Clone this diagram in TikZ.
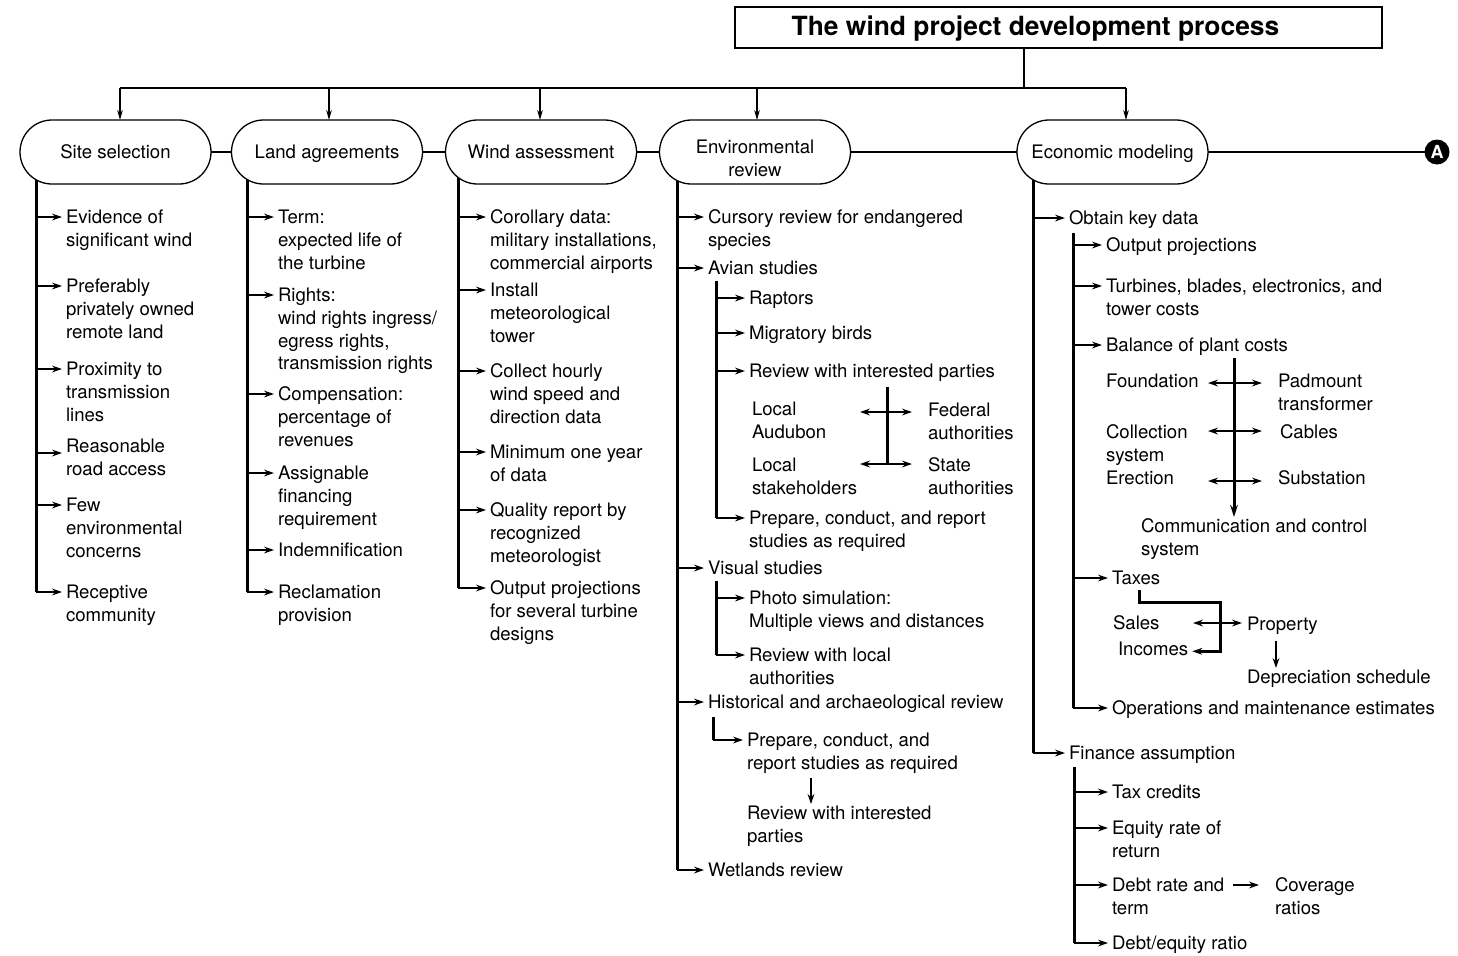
\documentclass[tikz,border=0pt]{standalone}
\usepackage{fontspec}
\setmainfont{TeX Gyre Heros}
\usetikzlibrary{shapes.misc,arrows.meta,calc}

% leaf item with an arrow from a trunk: [arrow y offset]{name}{trunk coord}{x}{y of first line}{text}
\newcommand\itemleaf[6][0]{%
  \node[lftxt] (#2) at (#4,{#5-9}) {\strut #6};
  \coordinate (#2-in) at ($(#2.north west)+(-4,{9+#1})$);
  \draw[br] (#3 |- #2-in) -- (#2-in);}
% plain text node: {name}{x}{y of first line}{text}
\newcommand\txtnode[4]{%
  \node[lftxt] (#1) at (#2,{#3-9}) {\strut #4};
  \coordinate (#1-in) at ($(#1.north west)+(-4,9)$);}
% header text with fixed height and depth
\newcommand\hdtxt[1]{\raisebox{0pt}[8pt][1.4pt]{#1}}

\begin{document}
\begin{tikzpicture}[x=0.5pt,y=-0.5pt,
  every node/.style={font=\fontsize{9.3}{11.3}\selectfont, inner sep=0pt, outer sep=0pt},
  hdr/.style={draw, line width=0.65pt, rounded rectangle, minimum width=95.5pt, minimum height=32pt, fill=white, align=center},
  lftxt/.style={anchor=north west, align=left},
  trunk/.style={line width=1.5pt},
  tip/.style={-{Stealth[length=5pt,width=3.4pt]}},
  br/.style={line width=1.1pt, tip},
  dnarr/.style={line width=1.5pt, -{Stealth[length=6pt,width=3.8pt]}},
  dbl/.style={line width=1.2pt, {Stealth[length=5pt,width=3.4pt]}-{Stealth[length=5pt,width=3.4pt]}},
  thinl/.style={line width=0.6pt},
  busarr/.style={line width=0.6pt, -{Stealth[length=5pt,width=2.8pt]}},
  hline/.style={line width=1.3pt}]
\useasboundingbox (0,0) rectangle (1458,955);

% trunk tops
\coordinate (t1) at (36,152);
\coordinate (t2) at (247,152);
\coordinate (t3) at (458,152);
\coordinate (t4) at (677,152);
\coordinate (t5) at (1033,152);

% ---------- Column 1: Site selection
\itemleaf{s1}{t1}{66}{217}{Evidence of\\significant wind}
\itemleaf{s2}{t1}{66}{286}{Preferably\\privately owned\\remote land}
\itemleaf{s3}{t1}{66}{369}{Proximity to\\transmission\\lines}
\itemleaf[7]{s4}{t1}{66}{446}{Reasonable\\road access}
\itemleaf{s5}{t1}{66}{505}{Few\\environmental\\concerns}
\itemleaf{s6}{t1}{66}{592}{Receptive\\community}
\draw[trunk] (t1) -- (t1 |- s6-in);

% ---------- Column 2: Land agreements
\itemleaf{l1}{t2}{278}{217}{Term:\\expected life of\\the turbine}
\itemleaf{l2}{t2}{278}{295}{Rights:\\wind rights ingress/\\egress rights,\\transmission rights}
\itemleaf{l3}{t2}{278}{394}{Compensation:\\percentage of\\revenues}
\itemleaf{l4}{t2}{278}{473}{Assignable\\financing\\requirement}
\itemleaf{l5}{t2}{278}{550}{Indemnification}
\itemleaf{l6}{t2}{278}{592}{Reclamation\\provision}
\draw[trunk] (t2) -- (t2 |- l6-in);

% ---------- Column 3: Wind assessment
\itemleaf{w1}{t3}{490}{217}{Corollary data:\\military installations,\\commercial airports}
\itemleaf{w2}{t3}{490}{290}{Install\\meteorological\\tower}
\itemleaf{w3}{t3}{490}{371}{Collect hourly\\wind speed and\\direction data}
\itemleaf{w4}{t3}{490}{452}{Minimum one year\\of data}
\itemleaf{w5}{t3}{490}{510}{Quality report by\\recognized\\meteorologist}
\itemleaf{w6}{t3}{490}{588}{Output projections\\for several turbine\\designs}
\draw[trunk] (t3) -- (t3 |- w6-in);

% ---------- Column 4: Environmental review
\itemleaf{e1}{t4}{708}{217}{Cursory review for endangered\\species}
\itemleaf{e2}{t4}{708}{268}{Avian studies}
\coordinate (av) at (716,281);
\itemleaf{a1}{av}{749}{298}{Raptors}
\itemleaf{a2}{av}{749}{333}{Migratory birds}
\itemleaf{a3}{av}{749}{371}{Review with interested parties}
\itemleaf{a4}{av}{749}{518}{Prepare, conduct, and report\\studies as required}
\draw[trunk] (av) -- (av |- a4-in);
\txtnode{lau}{752}{409}{Local\\Audubon}
\txtnode{fed}{928}{410}{Federal\\authorities}
\txtnode{lst}{752}{465}{Local\\stakeholders}
\txtnode{sta}{928}{465}{State\\authorities}
\coordinate (cv) at (887,387);
\coordinate (c1) at (887,412);
\coordinate (c2) at (887,464);
\draw[trunk] (cv) -- (c2);
\draw[dbl] ([xshift=-13.5pt]c1) -- ([xshift=12.5pt]c1);
\draw[dbl] ([xshift=-13.5pt]c2) -- ([xshift=12.5pt]c2);
\itemleaf{e3}{t4}{708}{568}{Visual studies}
\coordinate (vs) at (716,581);
\itemleaf{v1}{vs}{749}{598}{Photo simulation:\\Multiple views and distances}
\itemleaf{v2}{vs}{749}{655}{Review with local\\authorities}
\draw[trunk] (vs) -- (vs |- v2-in);
\itemleaf{e4}{t4}{708}{702}{Historical and archaeological review}
\coordinate (hs) at (713,717);
\itemleaf{h1}{hs}{747}{740}{Prepare, conduct, and\\report studies as required}
\draw[trunk] (hs) -- (hs |- h1-in);
\txtnode{h2}{747}{813}{Review with interested\\parties}
\coordinate (dx) at (811,0);
\coordinate (d1) at ($(h1.south -| dx)+(0,5)$);
\draw[br] (d1) -- (h2.north -| dx);
\itemleaf{e5}{t4}{708}{870}{Wetlands review}
\draw[trunk] (t4) -- (t4 |- e5-in);

% ---------- Column 5: Economic modeling
\itemleaf{k0}{t5}{1069}{218}{Obtain key data}
\coordinate (kd) at (1073,233);
\itemleaf{k1}{kd}{1106}{245}{Output projections}
\itemleaf{k2}{kd}{1106}{286}{Turbines, blades, electronics, and\\tower costs}
\itemleaf{k3}{kd}{1106}{345}{Balance of plant costs}
\txtnode{fo}{1106}{381}{Foundation}
\txtnode{co}{1106}{432}{Collection\\system}
\txtnode{erc}{1106}{478}{Erection}
\txtnode{pa}{1278}{381}{Padmount\\transformer}
\txtnode{ca}{1280}{432}{Cables}
\txtnode{su}{1278}{478}{Substation}
\txtnode{cm}{1141}{526}{Communication and control\\system}
\coordinate (bv) at (1234,358);
\coordinate (bp1) at (1234,383);
\coordinate (bp2) at (1234,431);
\coordinate (bp3) at (1234,481);
\draw[dnarr] (bv) -- (bv |- cm.north);
\draw[dbl] ([xshift=-13pt]bp1) -- ([xshift=14pt]bp1);
\draw[dbl] ([xshift=-13pt]bp2) -- ([xshift=14pt]bp2);
\draw[dbl] ([xshift=-13pt]bp3) -- ([xshift=14pt]bp3);
\itemleaf{k4}{kd}{1112}{578}{Taxes}
\txtnode{sal}{1113}{623}{Sales}
\txtnode{inc}{1118}{649}{Incomes}
\txtnode{pro}{1247}{624}{Property}
\txtnode{dep}{1247}{677}{Depreciation schedule}
\coordinate (tl) at (1139,590);
\coordinate (tr) at (1220,602);
\coordinate (tc) at (1220,623);
\draw[trunk, tip] (tl) |- (tr) |- ([xshift=2pt]inc.east);
\draw[dbl] ([xshift=-13.5pt]tc) -- ([xshift=11pt]tc);
\coordinate (px) at (1276,0);
\coordinate (p1) at ($(pro.south -| px)+(0,3)$);
\draw[br] (p1) -- (dep.north -| px);
\itemleaf{k5}{kd}{1112}{708}{Operations and maintenance estimates}
\draw[trunk] (kd) -- (kd |- k5-in);
\itemleaf{k6}{t5}{1069}{753}{Finance assumption}
\coordinate (fa) at (1074,767);
\itemleaf{f1}{fa}{1112}{792}{Tax credits}
\itemleaf{f2}{fa}{1112}{828}{Equity rate of\\return}
\itemleaf{f3}{fa}{1112}{885}{Debt rate and\\term}
\itemleaf{f4}{fa}{1112}{943}{Debt/equity ratio}
\draw[trunk] (fa) -- (fa |- f4-in);
\txtnode{cov}{1275}{885}{Coverage\\ratios}
\draw[br] ([xshift=-19pt]cov-in) -- ([xshift=-6pt]cov-in);
\draw[trunk] (t5) -- (t5 |- k6-in);

% ---------- Header row
\node[hdr] (ss) at (115.5,152) {\hdtxt{Site selection}};
\node[hdr] (la) at (327,152) {\hdtxt{Land agreements}};
\node[hdr] (wa) at (541,152) {\hdtxt{Wind assessment}};
\node[hdr] (er) at (755,152) {\raisebox{0pt}[13pt][0pt]{Environmental}\\\raisebox{0pt}[7pt][0pt]{review}};
\node[hdr] (ec) at (1112.5,152) {\hdtxt{Economic modeling}};
\node[circle, fill=black, minimum size=12.5pt, text=white,
      font=\bfseries\fontsize{9}{10}\selectfont] (A) at (1437,152) {A};
\draw[hline] (ss.east) -- (la.west);
\draw[hline] (la.east) -- (wa.west);
\draw[hline] (wa.east) -- (er.west);
\draw[hline] (er.east) -- (ec.west);
\draw[hline] (ec.east) -- (A.west);

% ---------- Title and bus
\node[draw, line width=0.65pt, minimum width=323.5pt, minimum height=20.5pt,
      font=\bfseries\fontsize{13.2}{15}\selectfont] (T) at (1058.5,27.5)
      {\raisebox{0pt}[9.5pt][1.5pt]{The wind project development process}\hspace*{23pt}};
\coordinate (bus) at (1024,88);
\coordinate (b1) at (120,88);
\coordinate (b2) at (329,88);
\coordinate (b3) at (540,88);
\coordinate (b4) at (757,88);
\coordinate (b5) at (1126,88);
\draw[thinl] (T.south -| bus) -- (bus);
\draw[thinl] (b1) -- (b5);
\draw[busarr] (b1) -- (b1 |- ss.north);
\draw[busarr] (b2) -- (b2 |- la.north);
\draw[busarr] (b3) -- (b3 |- wa.north);
\draw[busarr] (b4) -- (b4 |- er.north);
\draw[busarr] (b5) -- (b5 |- ec.north);
\end{tikzpicture}
\end{document}
